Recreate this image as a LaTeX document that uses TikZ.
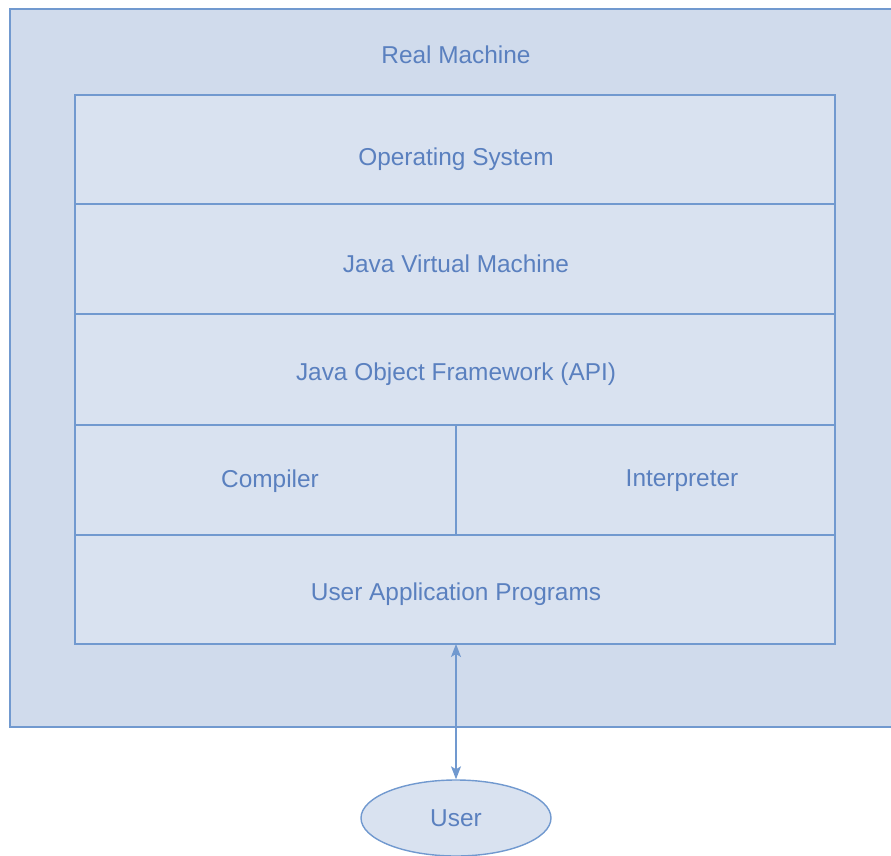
\documentclass[tikz,border=0pt]{standalone}
\usepackage{fontspec}
\setmainfont{Liberation Sans}
\usetikzlibrary{arrows.meta,shapes.geometric}
\definecolor{linec}{HTML}{7199CF}
\definecolor{textc}{HTML}{5A80BF}
\definecolor{outerf}{HTML}{D0DBEC}
\definecolor{innerf}{HTML}{D9E2F0}
\tikzset{
  lbl/.style={text=textc, font=\fontsize{24.4}{28}\selectfont, inner sep=0pt},
  cell/.style={draw=linec, line width=1.4pt, fill=innerf},
  bothtips/.style={{Stealth[length=13pt,width=10pt,inset=3pt]}-{Stealth[length=13pt,width=10pt,inset=3pt]}},
}
\begin{document}
\begin{tikzpicture}[x=1pt,y=-1pt]
\useasboundingbox (0,0) rectangle (891,856);
\begin{scope}
\clip (0,0) rectangle (891,856);
\draw[draw=linec, line width=1.4pt, fill=outerf] (10,9) rectangle (905,727);
\end{scope}
\node[lbl] (real) at (456,55) {Real Machine};
% inner stack
\draw[cell] (75,95) rectangle (835,204);
\draw[cell] (75,204) rectangle (835,314);
\draw[cell] (75,314) rectangle (835,425);
\draw[cell] (75,425) rectangle (456,535);
\draw[cell] (456,425) rectangle (835,535);
\draw[cell] (75,535) rectangle (835,644);
\coordinate (stackbottom) at (456,644);
\node[lbl] (os) at (456,159) {Operating System};
\node[lbl] (jvm) at (456,264) {Java Virtual Machine};
\node[lbl] (api) at (456,374) {Java Object Framework (API)};
\node[lbl] (comp) at (270,481) {Compiler};
\node[lbl] (interp) at (682,481) {Interpreter};
\node[lbl] (uap) at (456,594) {User Application Programs};
\node[ellipse, draw=linec, line width=1.4pt, fill=innerf, minimum width=190pt, minimum height=76pt, text=textc, font=\fontsize{24.4}{28}\selectfont] (user) at (456,818) {User};
\draw[linec, line width=1.2pt, bothtips] (stackbottom) -- (user.north);
\end{tikzpicture}
\end{document}
